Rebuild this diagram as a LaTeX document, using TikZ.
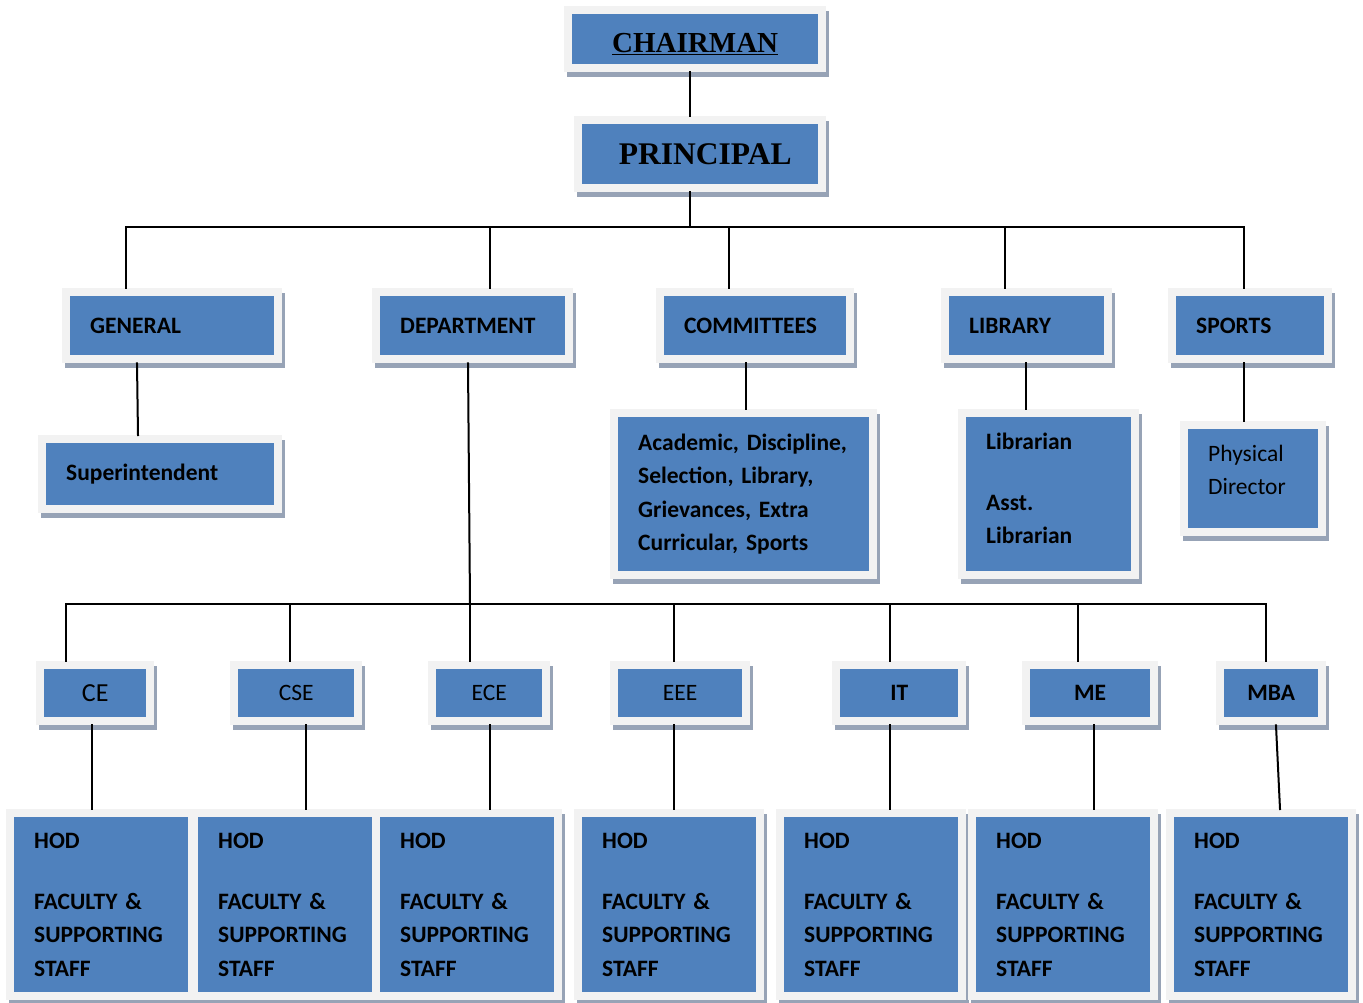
\documentclass[tikz,border=0pt]{standalone}
\usepackage{fontspec}
\setmainfont{Carlito}
\newfontfamily\serifbold{Liberation Serif}
\usetikzlibrary{shadows}
\frenchspacing

\definecolor{boxblue}{HTML}{4F81BD}
\definecolor{framegrey}{HTML}{F2F2F2}
\definecolor{shadowgrey}{HTML}{97A3B6}
\newcommand\boxfont{\fontsize{23.5}{33.3}\selectfont\hyphenpenalty=10000\relax}

\tikzset{
  box/.style={anchor=north west, fill=framegrey, inner ysep=0pt, inner xsep=28pt,
    drop shadow={shadow xshift=3pt, shadow yshift=-5pt, fill=shadowgrey, opacity=1},
    path picture={\fill[boxblue] ([shift={(8pt,-8pt)}]path picture bounding box.north west)
      rectangle ([shift={(-8pt,8pt)}]path picture bounding box.south east);}},
  lbox/.style={box, align=left, font=\boxfont\bfseries},
  cbox/.style={box, align=center, inner xsep=0pt, font=\boxfont},
  conn/.style={line width=2pt, line cap=rect}
}

\begin{document}
\begin{tikzpicture}[x=1pt,y=-1pt]
\useasboundingbox (0,0) rectangle (1363,1002);

% top
\node[cbox, minimum width=262pt, minimum height=66pt, text height=26pt, text depth=0pt,
  font=\serifbold\bfseries\fontsize{29}{34}\selectfont] (chair) at (564,6) {\underline{CHAIRMAN}};
\node[cbox, minimum width=252pt, minimum height=76pt, text height=20pt, text depth=0pt,
  font=\serifbold\bfseries\fontsize{31.5}{36}\selectfont] (prin) at (574,116) {\hspace*{10pt}PRINCIPAL};

% second row
\node[lbox, text width=164pt, minimum height=75pt] (gen) at (62,288) {GENERAL};
\node[lbox, text width=145pt, minimum height=75pt] (dept) at (372,288) {DEPARTMENT};
\node[lbox, text width=142pt, minimum height=75pt] (comm) at (656,288) {COMMITTEES};
\node[lbox, text width=115pt, minimum height=75pt] (lib) at (941,288) {LIBRARY};
\node[lbox, text width=108pt, minimum height=75pt] (sport) at (1168,288) {SPORTS};

% third row
\node[lbox, text width=188pt, minimum height=78pt] (sup) at (38,435) {Superintendent};
\node[lbox, text width=211pt, minimum height=170pt] (cdet) at (610,409)
  {Academic,~Discipline,\\Selection,~Library,\\Grievances,~Extra\\Curricular,~Sports};
\node[lbox, text width=125pt, minimum height=170pt] (libd) at (958,409)
  {Librarian\\[28pt]Asst.\\Librarian\\[-21pt]\mbox{}};
\node[lbox, text width=90pt, minimum height=115pt, font=\boxfont] (phys) at (1180,421)
  {Physical\\Director\\[-15pt]\mbox{}};

% departments
\node[cbox, minimum width=118pt, minimum height=64pt, font=\fontsize{26}{30}\selectfont] (ce) at (36,661) {CE};
\node[cbox, minimum width=132pt, minimum height=64pt] (cse) at (230,661) {CSE};
\node[cbox, minimum width=122pt, minimum height=64pt] (ece) at (428,661) {ECE};
\node[cbox, minimum width=140pt, minimum height=64pt] (eee) at (610,661) {EEE};
\node[cbox, minimum width=134pt, minimum height=64pt, font=\boxfont\bfseries] (it) at (832,661) {IT};
\node[cbox, minimum width=136pt, minimum height=64pt, font=\boxfont\bfseries] (me) at (1022,661) {ME};
\node[cbox, minimum width=110pt, minimum height=64pt, font=\boxfont\bfseries] (mba) at (1216,661) {MBA};

% staff boxes
\foreach \n/\x in {h1/6, h2/190, h3/372, h4/574, h5/776, h6/968, h7/1166}
  \node[lbox, text width=134pt, minimum height=191pt] (\n) at (\x,809)
    {HOD\\[28pt]FACULTY~\&\\SUPPORTING\\STAFF};

% connectors
\draw[conn] (chair.south -| 690,0) -- (prin.north -| 690,0);
\coordinate (tprin) at (690,227);
\draw[conn] (prin.south -| tprin) -- (tprin);
\foreach \n/\x in {gen/126, dept/490, comm/729, lib/1005, sport/1244}{
  \coordinate (t\n) at (\x,227);
  \draw[conn] (t\n) -- (t\n |- \n.north);
}
\draw[conn] (tgen) -- (tsport);

\draw[conn] (gen.south -| 137,0) -- (sup.north -| 138,0);
\draw[conn] (comm.south -| 746,0) -- (cdet.north -| 746,0);
\draw[conn] (lib.south -| 1026,0) -- (libd.north -| 1026,0);
\draw[conn] (sport.south -| 1244,0) -- (phys.north -| 1244,0);

\foreach \n/\x in {ce/66, cse/290, ece/470, eee/674, it/890, me/1078, mba/1266}{
  \coordinate (t\n) at (\x,604);
  \draw[conn] (t\n) -- (t\n |- \n.north);
}
\draw[conn] (tce) -- (tmba);
\draw[conn] (dept.south -| 468,0) -- (tece);

\foreach \d/\h/\a/\b in {ce/h1/92/92, cse/h2/306/306, ece/h3/490/490, eee/h4/674/674,
    it/h5/890/890, me/h6/1094/1094, mba/h7/1276/1280}
  \draw[conn] (\d.south -| \a,0) -- (\h.north -| \b,0);

\end{tikzpicture}
\end{document}
